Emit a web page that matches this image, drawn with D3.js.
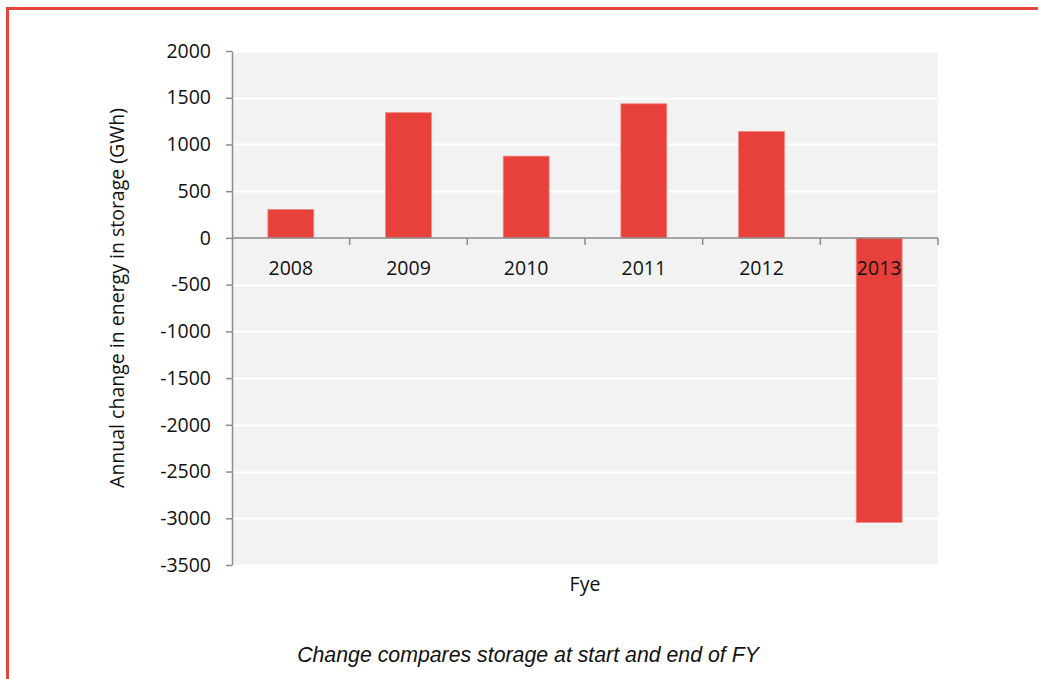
<!DOCTYPE html>
<html>
<head>
<meta charset="utf-8">
<script src="https://cdn.jsdelivr.net/npm/d3@7"></script>
<style>
  html, body { margin: 0; padding: 0; background: #fff; }
  svg { display: block; }
</style>
</head>
<body>
<svg id="chart" width="1038" height="679"></svg>
<script>
// Financial years and the annual change in stored energy (GWh)
const years = ["2008", "2009", "2010", "2011", "2012", "2013"];
const changeGWh = [305, 1340, 875, 1435, 1140, -3045];
const yTicks = [2000, 1500, 1000, 500, 0, -500, -1000, -1500, -2000, -2500, -3000, -3500];

const svg = d3.select("#chart");
const W = 1038, H = 679;
const plot = { left: 232, top: 51, right: 938, bottom: 565 };
const tickFont = "'Open Sans', 'Noto Sans', sans-serif";
const labelSize = 19.5;

// Red frame along the top and left edges
svg.append("line").attr("x1", 7.5).attr("x2", W).attr("y1", 8.5).attr("y2", 8.5)
  .attr("stroke", "#e8453a").attr("stroke-width", 3);
svg.append("line").attr("x1", 7.5).attr("x2", 7.5).attr("y1", 7).attr("y2", H)
  .attr("stroke", "#e8453a").attr("stroke-width", 3);

const x = d3.scaleBand().domain(years).range([plot.left, plot.right]).paddingInner(0.61).paddingOuter(0.305);
const xTickBand = d3.scaleBand().domain(years).range([plot.left, plot.right]);
const y = d3.scaleLinear().domain([-3500, 2000]).range([plot.bottom, plot.top]);

// Plot background
svg.append("rect")
  .attr("x", plot.left).attr("y", plot.top)
  .attr("width", plot.right - plot.left).attr("height", plot.bottom - plot.top)
  .attr("fill", "#f2f2f2");

// Horizontal gridlines
svg.append("g").selectAll("line").data(yTicks.filter(d => d !== 0)).join("line")
  .attr("x1", plot.left).attr("x2", plot.right)
  .attr("y1", d => Math.round(y(d)) + 0.5).attr("y2", d => Math.round(y(d)) + 0.5)
  .attr("stroke", "#ffffff").attr("stroke-width", 2);

// Bars
svg.append("g").selectAll("rect").data(years).join("rect")
  .attr("x", (d) => x(d))
  .attr("width", x.bandwidth())
  .attr("y", (d, i) => y(Math.max(0, changeGWh[i])))
  .attr("height", (d, i) => Math.abs(y(changeGWh[i]) - y(0)))
  .attr("fill", "#e8403a")
  .attr("stroke", "#f08a84").attr("stroke-width", 0.8);

// Y axis
const yAxis = svg.append("g")
  .attr("transform", `translate(${plot.left},0)`)
  .call(d3.axisLeft(y).tickValues(yTicks).tickFormat(d => String(d))
    .tickSize(6).tickPadding(15).tickSizeOuter(0));
yAxis.select(".domain").attr("stroke", "#8c8c8c").attr("stroke-width", 1.5);
yAxis.selectAll(".tick line").attr("stroke", "#8c8c8c").attr("stroke-width", 1.5);
yAxis.selectAll(".tick text")
  .attr("font-family", tickFont).attr("font-size", labelSize).attr("fill", "#111");

// X axis at zero, with category boundary ticks
const zeroY = y(0);
svg.append("line")
  .attr("x1", plot.left).attr("x2", plot.right)
  .attr("y1", zeroY).attr("y2", zeroY)
  .attr("stroke", "#8c8c8c").attr("stroke-width", 1.5);
const boundaries = years.map(d => xTickBand(d) + xTickBand.bandwidth());
svg.append("g").selectAll("line").data(boundaries).join("line")
  .attr("x1", d => d).attr("x2", d => d)
  .attr("y1", zeroY).attr("y2", zeroY + 7)
  .attr("stroke", "#8c8c8c").attr("stroke-width", 1.5);

// Category labels below zero line
svg.append("g").selectAll("text").data(years).join("text")
  .attr("x", d => x(d) + x.bandwidth() / 2)
  .attr("y", zeroY + 37)
  .attr("text-anchor", "middle")
  .attr("font-family", tickFont).attr("font-size", labelSize).attr("fill", "#111")
  .text(d => d);

// Axis titles
svg.append("text")
  .attr("x", (plot.left + plot.right) / 2).attr("y", 591)
  .attr("text-anchor", "middle")
  .attr("font-family", tickFont).attr("font-size", labelSize).attr("fill", "#111")
  .text("Fye");

svg.append("text")
  .attr("transform", `translate(124, 298) rotate(-90)`)
  .attr("text-anchor", "middle")
  .attr("font-family", tickFont).attr("font-size", labelSize).attr("fill", "#111")
  .text("Annual change in energy in storage (GWh)");

// Footnote
svg.append("text")
  .attr("x", 528).attr("y", 662)
  .attr("text-anchor", "middle")
  .attr("font-family", "'Liberation Sans', Arial, sans-serif")
  .attr("font-style", "italic").attr("font-size", 21.3).attr("fill", "#111")
  .text("Change compares storage at start and end of FY");
</script>
</body>
</html>
